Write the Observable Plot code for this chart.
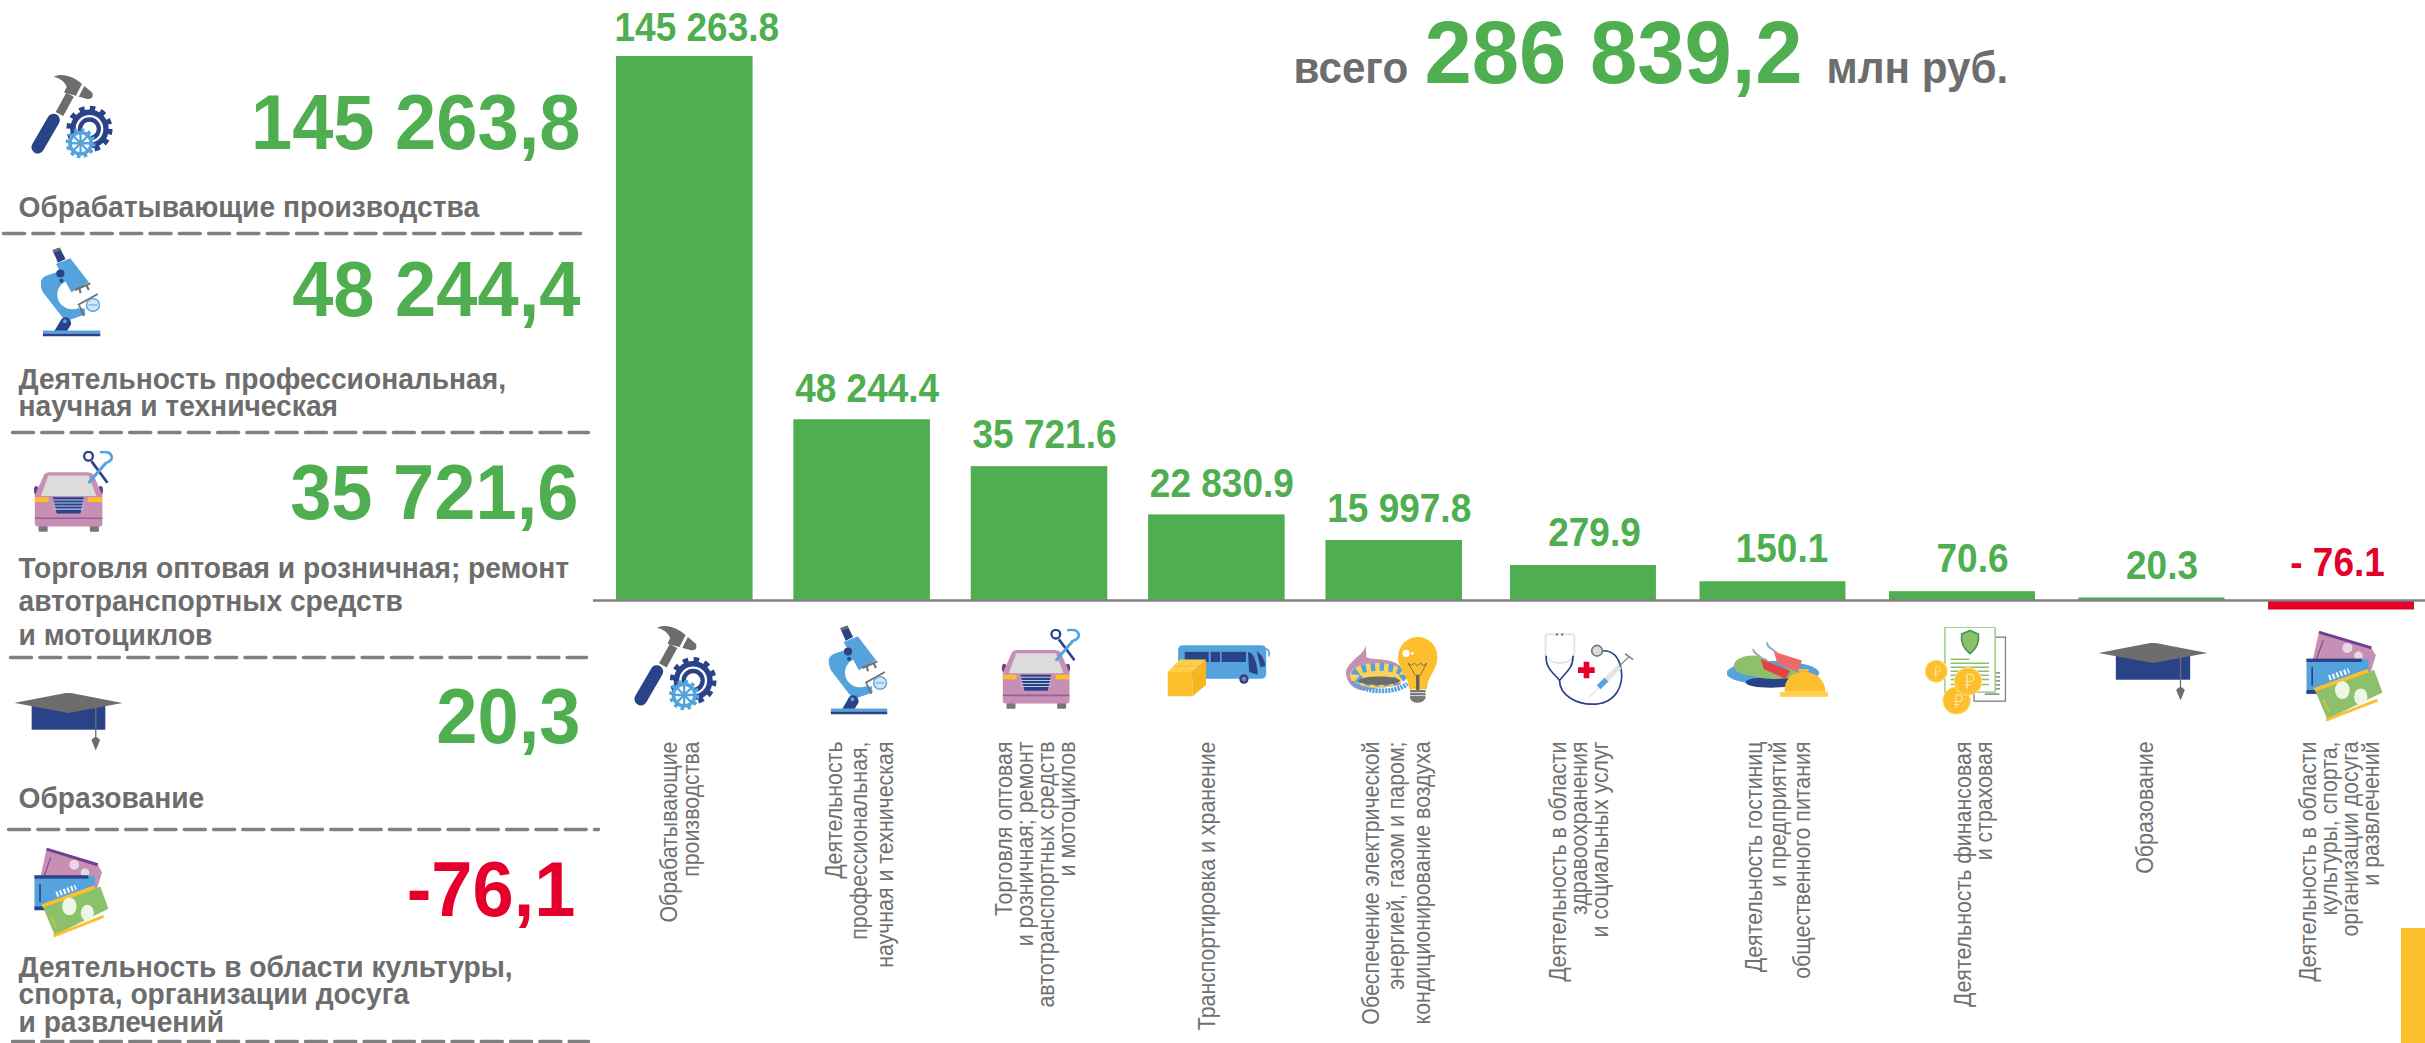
<!DOCTYPE html>
<html lang="ru">
<head>
<meta charset="utf-8">
<title>Финансовый результат</title>
<script src="https://cdn.jsdelivr.net/npm/d3@7"></script>
<script src="https://cdn.jsdelivr.net/npm/@observablehq/plot@0.6"></script>
<style>
html,body{margin:0;padding:0;background:#fff;overflow:hidden}
#chart{position:relative;width:2425px;height:1043px}
#chart svg{display:block;position:absolute;left:0;top:0}
#accent{position:absolute;left:2401px;top:928px;width:24px;height:115px;background:#fdbf2d}
</style>
</head>
<body>
<div id="chart"><div id="accent"></div></div>
<script>
// ---------- data ----------
const categories = [
  "Обрабатывающие\nпроизводства",
  "Деятельность\nпрофессиональная,\nнаучная и техническая",
  "Торговля оптовая\nи розничная; ремонт\nавтотранспортных средств\nи мотоциклов",
  "Транспортировка и хранение",
  "Обеспечение электрической\nэнергией, газом и паром;\nкондиционирование воздуха",
  "Деятельность в области\nздравоохранения\nи социальных услуг",
  "Деятельность гостиниц\nи предприятий\nобщественного питания",
  "Деятельность финансовая\nи страховая",
  "Образование",
  "Деятельность в области\nкультуры, спорта,\nорганизации досуга\nи развлечений"
];
const values = [145263.8, 48244.4, 35721.6, 22830.9, 15997.8, 279.9, 150.1, 70.6, 20.3, -76.1];
const valueLabels = ["145 263.8","48 244.4","35 721.6","22 830.9","15 997.8","279.9","150.1","70.6","20.3","- 76.1"];
const iconNames = ["hammer","microscope","car","bus","gas","medicine","food","finance","cap","tickets"];

const leftLabels = [
  "Обрабатывающие производства",
  "Деятельность профессиональная,\nнаучная и техническая",
  "Торговля оптовая и розничная; ремонт\nавтотранспортных средств\nи мотоциклов",
  "Образование",
  "Деятельность в области культуры,\nспорта, организации досуга\nи развлечений"
];
const leftValues = ["145 263,8","48 244,4","35 721,6","20,3","-76,1"];
const leftIcons = ["hammer","microscope","car","cap","tickets"];
const totalValue = "286 839,2";

// ---------- layout (pixels on the page) ----------
const GREEN = "#4eae50", RED = "#e4002b", GRAY = "#6d6d6d", RULE = "#808080";
const DARK = "#2a4287", BLUE = "#55a3dc", PINK = "#c68fb3", YEL = "#fdbf2d", LEAF = "#8dc06a", PURP = "#6f3f93";
const FONT = "Liberation Sans, Arial, sans-serif";

const table = values.map((v, i) => ({i, v, cat: categories[i], label: valueLabels[i]}));
const valueShift = [[12,-28],[5,-31],[5,-31],[5,-31],[5,-31],[11,-32],[9,-33],[10,-32],[10,-32],[-4,-37]];
const catShift = [[-4,22],[-3,25.5],[-3,21],[-9,22],[2,25.5],[-3,21],[5,24],[12,21],[-6,22],[-1,21]];
const leftBaselines = [216,415,644,807,1031];
const leftLineGap = [33,27,33.5,33,27.5];
const leftNumberPos = [[580,148],[580,315],[578,518],[580,742],[575,915]];
const ruleY = [[3,580,233],[12,588,432],[10,586,657],[8,598,829],[12,588,1041]];
const lowerBoxes = [[633,624,717,710],[828,625,887,714],[1001,628,1080,709],[1167,644,1270,696],[1345,636,1437,703],[1543,632,1634,705],[1726,639,1828,697],[1924,626,2006,714],[2098,642,2207,700],[2305,630,2382,721]];
const leftBoxes = [[30,73,113,158],[40,247,100,336],[33,450,113,532],[14,692,122,750],[33,847,108,937]];

// The source's lettering is slightly stretched; this keeps real text while matching its proportions.
const stretch = (sx, sy) => (index, scales, channels, dims, ctx, next) => {
  const g = next(index, scales, channels, dims, ctx);
  g.querySelectorAll("text").forEach(t => t.setAttribute("transform", (t.getAttribute("transform") || "") + ` scale(${sx},${sy})`));
  return g;
};

// ---------- icons ----------
const gear = (x,y,r,c,n,hole) => `<circle cx="${x}" cy="${y}" r="${r*.86}" fill="${c}"/><circle cx="${x}" cy="${y}" r="${r*.9}" fill="none" stroke="${c}" stroke-width="${r*.26}" pathLength="${2*n}" stroke-dasharray="1 1"/>${hole}`;
const ruble = (x,y,s) => `<path d="M${x-s*.3} ${y+s} V${y-s} H${x+s*.1} A${s*.5} ${s*.5} 0 0 1 ${x+s*.1} ${y} H${x-s*.6} M${x-s*.6} ${y+s*.45} H${x+s*.2}" fill="none" stroke="#ffe9a8" stroke-width="${s*.16}"/>`;
const icons = {
hammer:["38 28 252 256",`
 <path d="M126 150 L158 92" stroke="${GRAY}" stroke-width="26"/>
 <path d="M108 38 C135 25 170 38 195 60 L225 85 C232 102 218 108 205 103 L140 85 L148 68 C140 50 125 42 108 38Z" fill="${GRAY}"/>
 <path d="M198 62 L180 97" stroke="#fff" stroke-width="9"/>
 <path d="M60 250 L108 168" stroke="${DARK}" stroke-width="38" stroke-linecap="round"/>
 ${gear(217,195,68,DARK,12,`<circle cx="217" cy="195" r="42" fill="#fff"/><circle cx="217" cy="195" r="35" fill="${DARK}"/><circle cx="217" cy="195" r="22" fill="#fff"/>`)}
 ${gear(190,238,44,BLUE,12,`<circle cx="190" cy="238" r="27" fill="#fff"/><path d="M190 208V268M160 238H220M169 217L211 259M211 217L169 259" stroke="${BLUE}" stroke-width="7"/>`)}`],
microscope:["625 30 175 268",`
 <path d="M625 135Q628 118 650 112L700 95L745 160L756 232L698 252L632 165Q625 150 625 135Z" fill="${BLUE}"/>
 <circle cx="718" cy="172" r="44" fill="#fff"/><path d="M730 128H800V202L738 216Z" fill="#fff"/>
 <path d="M660 38L681 30L698 65L676 76Z" fill="${DARK}"/><path d="M660 38L681 30L684 38L664 46Z" fill="${GRAY}"/>
 <path d="M670 80L712 62L766 135L715 165Z" fill="${BLUE}"/>
 <circle cx="683" cy="108" r="12" fill="${DARK}"/><circle cx="686" cy="130" r="6" fill="${DARK}"/>
 <path d="M726 158L770 138M738 150L742 168M758 142L766 158" stroke="${GRAY}" stroke-width="6" fill="none"/>
 <path d="M734 203L792 170M738 205L752 236" stroke="${GRAY}" stroke-width="5"/>
 <circle cx="778" cy="203" r="19" fill="#d5e6f5" stroke="${BLUE}" stroke-width="4"/><path d="M765 203H790" stroke="${BLUE}" stroke-width="3"/>
 <path d="M665 282L686 246C700 232 716 246 714 262L702 282Z" fill="${DARK}"/><circle cx="696" cy="252" r="6" fill="${BLUE}"/>
 <rect x="632" y="280" width="168" height="9" fill="${BLUE}"/><rect x="632" y="289" width="168" height="9" fill="${DARK}"/>`],
car:["1143 40 237 242",`
 <rect x="1158" y="262" width="27" height="18" rx="3" fill="#777"/><rect x="1310" y="262" width="27" height="18" rx="3" fill="#777"/>
 <ellipse cx="1151" cy="158" rx="7" ry="13" fill="${PURP}"/><ellipse cx="1342" cy="158" rx="7" ry="13" fill="${PURP}"/>
 <path d="M1147 172V256Q1147 264 1155 264H1340Q1347 264 1347 256V172L1320 110Q1315 104 1300 104H1190Q1180 104 1175 110Z" fill="${PINK}"/>
 <path d="M1165 174L1187 114H1306L1329 174Z" fill="#dcdcdc"/>
 <rect x="1147" y="178" width="41" height="14" fill="${YEL}"/><rect x="1305" y="178" width="41" height="14" fill="${YEL}"/>
 <path d="M1200 178H1292L1282 226H1212Z" fill="${DARK}"/>
 <path d="M1200 186H1292M1200 195H1292M1200 204H1292M1200 213H1292" stroke="#bcc8e2" stroke-width="3"/>
 <path d="M1147 240H1347" stroke="#9b5f9a" stroke-width="5"/>
 <path d="M1315 72L1362 135" stroke="${DARK}" stroke-width="8"/><circle cx="1306" cy="57" r="13" fill="none" stroke="${DARK}" stroke-width="7"/>
 <path d="M1358 76L1306 136" stroke="${BLUE}" stroke-width="9"/><path d="M1340 45C1380 38 1385 70 1358 76" fill="none" stroke="${BLUE}" stroke-width="8"/>`],
bus:["50 88 310 155",`
 <path d="M340 100C356 100 358 112 355 124" fill="none" stroke="${BLUE}" stroke-width="5"/>
 <rect x="82" y="90" width="265" height="100" rx="14" fill="${BLUE}"/>
 <rect x="102" y="110" width="72" height="30" fill="${DARK}"/><rect x="180" y="110" width="28" height="30" fill="${DARK}"/><rect x="213" y="110" width="73" height="30" fill="${DARK}"/>
 <path d="M292 110Q316 112 322 178L296 170Z" fill="${DARK}"/><path d="M318 108Q340 120 345 152L330 156Z" fill="${DARK}"/>
 <circle cx="280" cy="191" r="14" fill="${DARK}"/><circle cx="280" cy="191" r="7" fill="#888"/>
 <path d="M50 170H125V243H50Z" fill="${YEL}"/><path d="M50 170L88 133H166L125 170Z" fill="#fdd04f"/><path d="M125 170L166 133V208L125 243Z" fill="#f7b51f"/>
 <path d="M70 170L108 133M130 133L92 170M68 152H148" stroke="#f7b51f" stroke-width="2"/>`],
gas:["585 62 275 203",`
 <path d="M645 88C642 118 600 130 587 165C583 200 610 225 640 225L750 210L748 152C722 125 665 135 648 125Z" fill="${PINK}"/>
 <ellipse cx="680" cy="180" rx="82" ry="38" fill="#fdd25c"/>
 <ellipse cx="686" cy="178" rx="72" ry="24" fill="none" stroke="${BLUE}" stroke-width="24" pathLength="24" stroke-dasharray="1 1"/>
 <ellipse cx="686" cy="196" rx="62" ry="13" fill="${GRAY}"/>
 <path d="M605 200C640 235 735 235 770 205" fill="none" stroke="${BLUE}" stroke-width="14" pathLength="26" stroke-dasharray="1 .4"/>
 <path d="M742 125A59 62 0 1 1 860 125C860 165 830 180 828 222H776C774 180 742 165 742 125Z" fill="${YEL}"/>
 <circle cx="766" cy="113" r="11" fill="#fff"/><circle cx="785" cy="113" r="4" fill="#fff"/>
 <path d="M772 143L782 150L790 143L800 150L810 143L818 150L828 143L808 180M772 143L794 180" fill="none" stroke="#5f5f5f" stroke-width="2.5"/>
 <rect x="796" y="178" width="10" height="46" fill="#5f5f5f"/>
 <path d="M778 224H824V250Q815 263 800 263Q785 263 778 250Z" fill="#777"/><path d="M778 232H824M778 241H824" stroke="#eee" stroke-width="2.5"/>`],
medicine:["1180 50 272 220",`
 <path d="M1186 118V62Q1186 55 1195 55H1265Q1272 55 1272 62V118C1260 150 1200 150 1186 118" fill="none" stroke="#e4e4e4" stroke-width="6"/>
 <circle cx="1220" cy="56" r="3" fill="${DARK}"/><circle cx="1236" cy="56" r="3" fill="${DARK}"/>
 <path d="M1188 120C1185 160 1215 175 1228 195C1240 175 1270 160 1268 120M1228 195C1228 240 1280 266 1325 266C1400 266 1420 205 1412 160C1405 120 1385 105 1358 105" fill="none" stroke="${DARK}" stroke-width="5"/>
 <circle cx="1340" cy="105" r="16" fill="#ddd" stroke="#777" stroke-width="5"/>
 <path d="M1283 155H1333V172H1283ZM1300 138H1317V188H1300Z" fill="${RED}"/>
 <path d="M1318 244L1345 217" stroke="#ddd" stroke-width="3"/><path d="M1345 215L1408 152" stroke="#e4e4e4" stroke-width="16"/>
 <path d="M1345 215L1368 192" stroke="${BLUE}" stroke-width="16"/><path d="M1406 152L1436 122" stroke="#888" stroke-width="4"/><path d="M1424 114L1448 132" stroke="#888" stroke-width="5"/>`],
food:["47 72 308 173",`
 <ellipse cx="187" cy="172" rx="140" ry="36" fill="${BLUE}"/><ellipse cx="180" cy="200" rx="75" ry="16" fill="${DARK}"/>
 <ellipse cx="125" cy="150" rx="56" ry="30" fill="${LEAF}"/><ellipse cx="190" cy="172" rx="70" ry="18" fill="${LEAF}"/>
 <path d="M170 80C165 95 190 100 198 112M128 100C125 115 150 118 155 132" fill="none" stroke="#9aa7c8" stroke-width="6"/>
 <path d="M190 108L275 135L262 168L200 142Z" fill="#ee6a6a"/><path d="M150 130L240 165L225 190L160 160Z" fill="#e8404a"/>
 <path d="M222 228Q222 172 280 168Q342 172 346 228Z" fill="${YEL}"/><rect x="208" y="228" width="146" height="15" fill="#fdd04f"/><rect x="265" y="160" width="30" height="8" fill="${YEL}"/>`],
finance:["642 33 245 264",`
 <rect x="790" y="65" width="94" height="192" fill="#fff" stroke="#808080" stroke-width="4"/>
 <path d="M855 172H868M855 184H868M855 196H868M855 208H868M855 220H868M822 236H866" stroke="#707070" stroke-width="4"/>
 <rect x="703" y="35" width="150" height="195" fill="#fff" stroke="#a6d28b" stroke-width="5"/>
 <path d="M778 45L803 56C806 80 798 100 778 114C758 100 750 80 753 56Z" fill="${LEAF}" stroke="#3d9a58" stroke-width="5"/>
 <path d="M720 131H776M720 143H835M720 155H835M720 167H835M720 179H835M720 192H835M720 207H835" stroke="${LEAF}" stroke-width="4.5"/>
 <circle cx="677" cy="167" r="33" fill="${YEL}" stroke="#ffe08a" stroke-width="3"/>${ruble(680,170,16)}
 <circle cx="738" cy="255" r="41" fill="${YEL}" stroke="#ffe08a" stroke-width="3"/>${ruble(742,258,20)}
 <circle cx="772" cy="198" r="41" fill="${YEL}" stroke="#ffe08a" stroke-width="3"/>${ruble(776,198,22)}`],
cap:["1165 82 327 173",`
 <rect x="1217" y="118" width="223" height="75" fill="${DARK}"/>
 <path d="M1165 113L1328 82L1492 113L1328 143Z" fill="${GRAY}"/>
 <path d="M1411 128V216" stroke="${GRAY}" stroke-width="4"/><path d="M1398 224Q1411 206 1424 224L1411 255Z" fill="${GRAY}"/>`],
tickets:["75 120 230 272",`
 <path d="M115 125L272 172L285 195L262 270L95 215Z" fill="${PINK}"/><path d="M115 125L272 172" stroke="${PURP}" stroke-width="9"/><path d="M128 150L108 205" stroke="${PURP}" stroke-width="3"/>
 <circle cx="200" cy="172" r="15" fill="#ead6e4"/><circle cx="233" cy="196" r="13" fill="#ead6e4"/>
 <rect x="78" y="205" width="185" height="105" fill="${BLUE}"/><rect x="78" y="204" width="165" height="10" fill="${DARK}"/><rect x="78" y="298" width="36" height="11" fill="${DARK}"/>
 <path d="M95 230V285" stroke="${DARK}" stroke-width="5"/><path d="M145 262L205 240" stroke="#fff" stroke-width="16" stroke-dasharray="6 6"/>
 <path d="M104 300L280 238L305 305L140 385Z" fill="${LEAF}"/>
 <path d="M102 297L262 240" stroke="${YEL}" stroke-width="11"/><path d="M136 388L290 328" stroke="${YEL}" stroke-width="9"/><path d="M128 325L145 365" stroke="${YEL}" stroke-width="3"/>
 <ellipse cx="185" cy="298" rx="22" ry="27" fill="#eef6e6"/><ellipse cx="240" cy="318" rx="20" ry="25" fill="#eef6e6"/>`]
};
const iconSrc = name => "data:image/svg+xml," + encodeURIComponent(
  `<svg xmlns="http://www.w3.org/2000/svg" viewBox="${icons[name][0]}" preserveAspectRatio="none">${icons[name][1]}</svg>`);
const placeIcon = (name, [x0,y0,x1,y1]) => Plot.image([name], {
  src: iconSrc(name), width: x1-x0, height: y1-y0, preserveAspectRatio: "none",
  frameAnchor: "top-left", dx: (x0+x1)/2, dy: (y0+y1)/2
});
const pinned = (text, x, y, o) => Plot.text([text], {
  text: d => d, frameAnchor: "top-left", dx: x, dy: y, lineAnchor: "bottom", fontFamily: FONT, fontWeight: "bold", ...o
});

// ---------- chart ----------
const chart = Plot.plot({
  width: 2425, height: 1043, margin: 0,
  style: {background: "transparent", fontFamily: FONT, overflow: "visible"},
  // The source draws the small items on a stretched stretch of the same axis.
  x: {axis: null, type: "linear", domain: [-0.385,4.385,4.615,9.385], range: [616,1462,1510,2414]},
  y: {axis: null, type: "linear", domain: [-76.1,0,279.9,15997.8,145263.8], range: [609.5,600,565,540,56]},
  marks: [
    // bars
    Plot.rect(table, {x1: d => d.i-.385, x2: d => d.i+.385, y1: 0, y2: "v", fill: d => d.v < 0 ? RED : GREEN}),
    // baseline
    Plot.ruleY([0], {x1: -0.515, x2: 9.6, stroke: RULE, strokeWidth: 2.5}),
    // value labels
    ...table.map((d,k) => Plot.text([d], {
      x: "i", y: Math.max(d.v,0), text: "label",
      dx: valueShift[k][0], dy: valueShift[k][1],
      fill: d.v < 0 ? RED : GREEN, fontSize: 37, fontWeight: "bold", fontFamily: FONT,
      render: stretch(1, 1.08)
    })),
    // rotated category labels
    ...table.map((d,k) => Plot.text([d], {
      x: "i", text: "cat", frameAnchor: "top", dy: 741, dx: catShift[k][0],
      rotate: -90, textAnchor: "end", lineAnchor: "middle",
      lineHeight: catShift[k][1]/22/1.08, fill: "#707070", fontSize: 22, fontFamily: FONT,
      render: stretch(.97, 1.08)
    })),
    // icons under the bars and in the left column
    ...iconNames.map((n,k) => placeIcon(n, lowerBoxes[k])),
    ...leftIcons.map((n,k) => placeIcon(n, leftBoxes[k])),
    // left column
    ...leftLabels.map((t,k) => pinned(t, 18, leftBaselines[k], {textAnchor:"start", fill:GRAY, fontSize:28, lineHeight:leftLineGap[k]/28/1.08, render: stretch(1.007,1.08)})),
    ...leftValues.map((t,k) => pinned(t, leftNumberPos[k][0], leftNumberPos[k][1], {textAnchor:"end", fill:t.startsWith("-")?RED:GREEN, fontSize:73.5, render: stretch(1.008,1.07)})),
    ...ruleY.map(([a,b,y]) => Plot.line([[a,y],[b,y]], {x: d => d[0], y: d => d[1], curve:"linear", stroke: RULE, strokeWidth: 3.5, strokeDasharray: "21 8.3", render: (i,s,v,dim,ctx,next) => next(i, {...s, x: p => p, y: p => p}, {x: Float32Array.of(a,b), y: Float32Array.of(y,y)}, dim, ctx)})),
    // total
    pinned("всего", 1293, 82, {textAnchor:"start", fill:GRAY, fontSize:41, render: stretch(1.03,1.1)}),
    pinned(totalValue, 1424, 82, {textAnchor:"start", fill:GREEN, fontSize:85, render: stretch(1,1.05)}),
    pinned("млн руб.", 1826, 82, {textAnchor:"start", fill:GRAY, fontSize:41, render: stretch(1.03,1.1)})
  ]
});
document.getElementById("chart").prepend(chart);
</script>
</body>
</html>
